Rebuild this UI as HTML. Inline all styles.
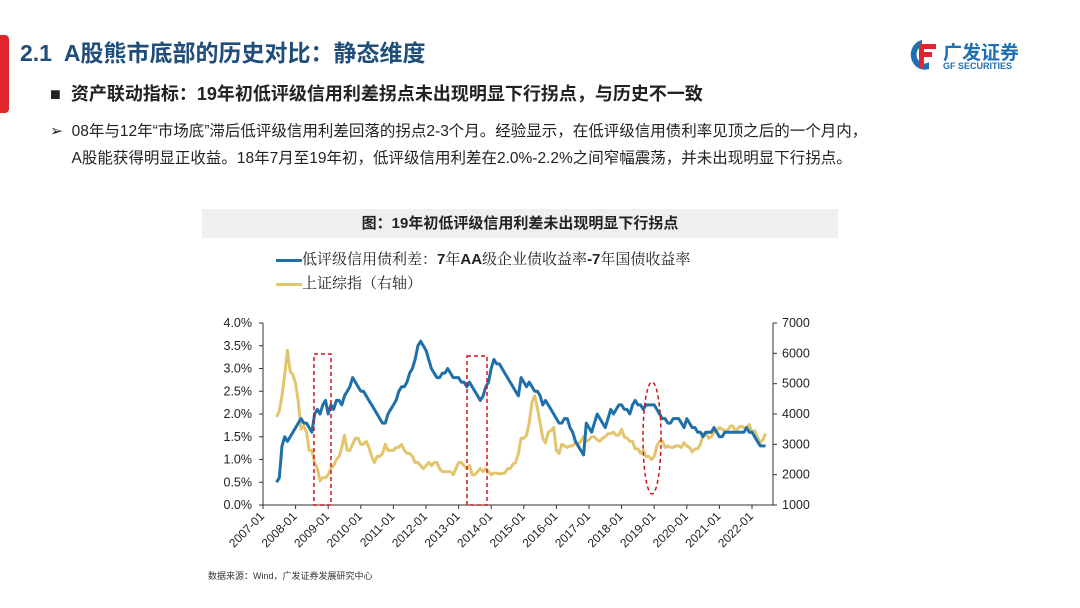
<!DOCTYPE html>
<html><head><meta charset="utf-8">
<style>
body{margin:0;width:1080px;height:608px;background:#fff;position:relative;overflow:hidden;font-family:"Liberation Sans","Noto Sans CJK SC",sans-serif;}
.abs{position:absolute;white-space:nowrap;}
</style></head>
<body>
<div class="abs" style="left:0;top:35px;width:9px;height:78px;background:#e0262c;border-radius:0 4px 4px 0;"></div>
<div class="abs" style="left:20px;top:34px;font-size:23px;font-weight:bold;color:#1f4e79;">2.1&nbsp; A股熊市底部的历史对比：静态维度</div>
<div class="abs" style="left:905px;top:36px;width:140px;height:40px;">
 <svg width="30" height="34" viewBox="0 0 30 34" style="position:absolute;left:2px;top:2px">
  <path d="M15 2 A14 15 0 1 0 22 31 L22 24 A8 9 0 1 1 15 8 Z" fill="#1f6fb5"/>
  <rect x="12" y="6" width="17" height="5" fill="#e0262c"/><rect x="12" y="14" width="13" height="5" fill="#e0262c"/><rect x="12" y="6" width="5" height="24" fill="#e0262c"/>
 </svg>
 <div class="abs" style="left:38px;top:2px;font-size:19px;font-weight:bold;color:#1f6fb5;">广发证券</div>
 <div class="abs" style="left:38px;top:25px;font-size:9px;font-weight:bold;color:#1f6fb5;">GF SECURITIES</div>
</div>
<div class="abs" style="left:50px;top:80px;font-size:18px;font-weight:bold;color:#222;">■&nbsp; 资产联动指标：19年初低评级信用利差拐点未出现明显下行拐点，与历史不一致</div>
<div class="abs" style="left:50px;top:118px;font-size:15.5px;color:#222;line-height:27px;">➢&nbsp; 08年与12年“市场底”滞后低评级信用利差回落的拐点2-3个月。经验显示，在低评级信用债利率见顶之后的一个月内，<br>&nbsp;&nbsp;&nbsp;&nbsp;&nbsp;A股能获得明显正收益。18年7月至19年初，低评级信用利差在2.0%-2.2%之间窄幅震荡，并未出现明显下行拐点。</div>
<div class="abs" style="left:202px;top:209px;width:636px;height:29px;background:#efefef;text-align:center;font-size:15px;font-weight:bold;line-height:29px;color:#222;">图：19年初低评级信用利差未出现明显下行拐点</div>
<div class="abs" style="left:276px;top:248px;font-size:15px;color:#222;font-family:'Noto Serif CJK SC','Liberation Serif',serif;"><span style="display:inline-block;width:26px;height:3px;background:#1f6fa8;vertical-align:middle;"></span>低评级信用债利差：<b style="font-family:'Liberation Sans',sans-serif">7</b>年<b style="font-family:'Liberation Sans',sans-serif">AA</b>级企业债收益率<b style="font-family:'Liberation Sans',sans-serif">-7</b>年国债收益率</div>
<div class="abs" style="left:276px;top:272px;font-size:15px;color:#222;font-family:'Noto Serif CJK SC','Liberation Serif',serif;"><span style="display:inline-block;width:26px;height:3px;background:#e3c56e;vertical-align:middle;"></span>上证综指（右轴）</div>
<svg id="chart" class="abs" style="left:0;top:0" width="1080" height="608"></svg>
<div class="abs" style="left:208px;top:569px;font-size:9px;color:#333;">数据来源：Wind，广发证券发展研究中心</div>
<script>
const leftTicks=["0.0%","0.5%","1.0%","1.5%","2.0%","2.5%","3.0%","3.5%","4.0%"];
const rightTicks=[1000,2000,3000,4000,5000,6000,7000];
const xTickYears=[2007,2008,2009,2010,2011,2012,2013,2014,2015,2016,2017,2018,2019,2020,2021,2022];
const startYear=2007, startMonth=6;
const spread=[0.5,0.6,1.3,1.5,1.4,1.5,1.6,
1.7,1.8,1.9,1.8,1.8,1.7,1.6,2.0,2.1,2.0,2.2,2.3,
2.0,2.2,2.1,2.3,2.3,2.2,2.4,2.5,2.6,2.8,2.7,2.6,
2.5,2.5,2.4,2.3,2.2,2.1,2.0,1.9,1.8,1.8,2.0,2.1,
2.2,2.3,2.5,2.6,2.6,2.7,2.9,3.0,3.2,3.5,3.6,3.5,
3.4,3.2,3.0,2.9,2.8,2.8,2.9,2.9,3.0,2.9,2.8,2.8,
2.8,2.7,2.7,2.6,2.7,2.6,2.5,2.4,2.3,2.4,2.6,2.7,
3.0,3.2,3.1,3.1,3.0,2.9,2.8,2.7,2.6,2.5,2.4,2.8,
2.7,2.6,2.7,2.6,2.5,2.5,2.4,2.2,2.3,2.2,2.1,2.0,
1.9,1.8,1.8,1.9,1.9,1.7,1.6,1.4,1.3,1.2,1.1,1.8,
1.7,1.6,1.8,2.0,1.9,1.8,1.7,1.9,2.1,2.0,2.1,2.2,
2.2,2.1,2.1,2.0,2.2,2.3,2.2,2.2,2.1,2.2,2.2,2.2,
2.2,2.1,2.0,1.9,1.9,1.8,1.8,1.9,1.9,1.9,1.8,1.7,
1.9,1.8,1.7,1.7,1.6,1.6,1.5,1.6,1.6,1.6,1.7,1.6,
1.5,1.5,1.6,1.6,1.6,1.6,1.6,1.6,1.6,1.6,1.7,1.6,
1.6,1.5,1.4,1.3,1.3,1.3];
const shIndex=[3900,4100,4600,5300,6100,5400,5300,
5000,4400,3500,3600,3400,2800,2800,2400,2200,1800,1900,1900,
2000,2200,2300,2500,2600,2900,3300,2800,2800,3000,3200,3200,
3000,3000,3100,2900,2600,2400,2600,2600,2700,3000,2800,2800,
2800,2900,2900,3000,2800,2700,2700,2600,2400,2400,2300,2200,
2300,2400,2300,2400,2400,2200,2100,2100,2100,2100,2000,2200,
2400,2400,2300,2200,2300,2000,2000,2100,2200,2100,2200,2100,
2000,2050,2050,2030,2040,2050,2200,2200,2350,2400,2700,3200,
3200,3300,3700,4400,4600,4200,3700,3200,3050,3400,3450,3550,
2800,2700,3000,2950,2900,2950,2950,3050,3000,3100,3250,3100,
3150,3250,3250,3150,3100,3200,3250,3350,3350,3400,3300,3300,
3500,3250,3200,3100,3100,2850,2850,2700,2800,2600,2600,2500,
2600,2950,3100,3100,2900,2950,2900,2900,2950,2950,2900,3050,
2950,2900,2750,2850,2850,3000,3350,3400,3200,3250,3400,3450,
3550,3500,3450,3450,3600,3600,3400,3550,3600,3550,3550,3650,
3400,3450,3250,3050,3150,3350];
const X0=263,X1=773,YT=323,YB=505;
const xs=t=>X0+(t-2007)*32.6;
const yL=v=>YB-(v/4)*(YB-YT);
const yR=v=>YB-((v-1000)/6000)*(YB-YT);
const svg=document.getElementById('chart');
const NS='http://www.w3.org/2000/svg';
function mk(tag,attrs,parent){const e=document.createElementNS(NS,tag);for(const k in attrs)e.setAttribute(k,attrs[k]);(parent||svg).appendChild(e);return e;}
let a=mk('line',{x1:X0,y1:YT,x2:X0,y2:YB,stroke:'#333','stroke-width':1});


a=mk('line',{x1:X1,y1:YT,x2:X1,y2:YB,stroke:'#333','stroke-width':1});


a=mk('line',{x1:X0,y1:YB,x2:X1,y2:YB,stroke:'#333','stroke-width':1});


leftTicks.forEach((t,i)=>{const y=yL(i*0.5);
 mk('line',{x1:X0-4,y1:y,x2:X0,y2:y,stroke:'#333'});
 const tx=mk('text',{x:X0-11,y:y+4,'text-anchor':'end','font-size':12.5,fill:'#222','font-family':'Liberation Sans'});tx.textContent=t;
 
 });
rightTicks.forEach(t=>{const y=yR(t);
 mk('line',{x1:X1,y1:y,x2:X1+4,y2:y,stroke:'#333'});
 const tx=mk('text',{x:X1+9,y:y+4,'font-size':12.5,fill:'#222','font-family':'Liberation Sans'});tx.textContent=t;
 
 });
xTickYears.forEach(yr=>{const x=xs(yr);
 mk('line',{x1:x,y1:YB,x2:x,y2:YB+4,stroke:'#333'});
 const tx=mk('text',{x:x+2,y:YB+12,'text-anchor':'end','font-size':12,fill:'#222','font-family':'Liberation Sans',transform:`rotate(-45 ${x+2} ${YB+12})`});tx.textContent=yr+'-01';
 
 });
function series(arr,yf,color,name){
 const pts=arr.map((v,i)=>{const t=startYear+(startMonth-1+i)/12;return xs(t).toFixed(1)+','+yf(v).toFixed(1);}).join(' ');
 const p=mk('polyline',{points:pts,fill:'none',stroke:color,'stroke-width':3,'stroke-linejoin':'round'});
 
 
}
series(shIndex,yR,'#e3c56e','shanghai-index-line');
series(spread,yL,'#1f6fa8','credit-spread-line');
let r=mk('rect',{x:314,y:354,width:17,height:151,fill:'none',stroke:'#d0141c','stroke-width':1.5,'stroke-dasharray':'4,3'});


r=mk('rect',{x:467,y:356,width:20,height:149,fill:'none',stroke:'#d0141c','stroke-width':1.5,'stroke-dasharray':'4,3'});


r=mk('ellipse',{cx:652,cy:438,rx:9,ry:56,fill:'none',stroke:'#d0141c','stroke-width':1.5,'stroke-dasharray':'4,3'});


</script>
</body></html>
